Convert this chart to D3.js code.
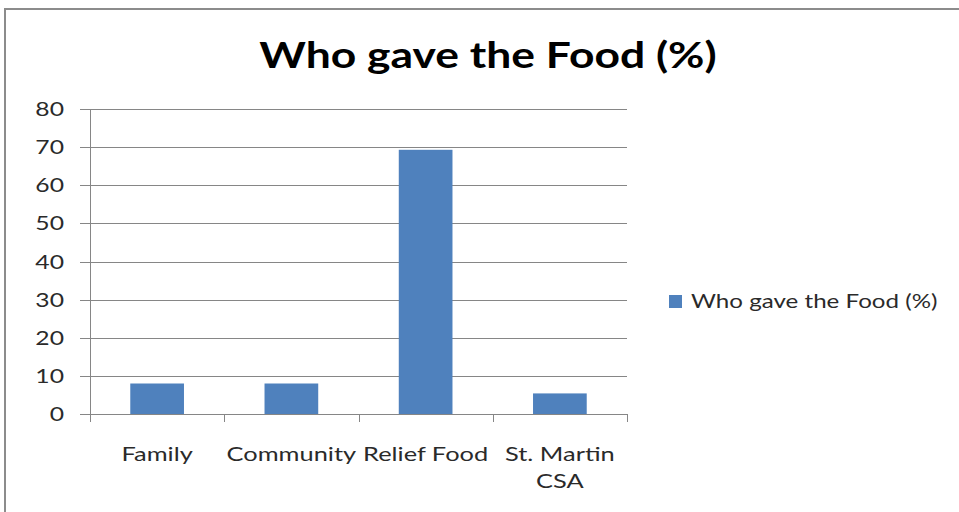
<!DOCTYPE html>
<html>
<head>
<meta charset="utf-8">
<script src="https://cdn.jsdelivr.net/npm/d3@7"></script>
<style>
  body { margin: 0; background: #fff; }
  text { font-family: Lato, "Open Sans", sans-serif; fill: #000; }
</style>
</head>
<body>
<svg id="chart"></svg>
<script>
// DATA ////////////////////////////////////////////////////////////////
var categories = ["Family", "Community", "Relief Food", "St. Martin CSA"];
var values = [8, 8, 69.3, 5.4];
var yTicks = [0, 10, 20, 30, 40, 50, 60, 70, 80];
var seriesName = "Who gave the Food (%)";

// SETUP ///////////////////////////////////////////////////////////////
const W = 959, H = 512;
const PLOT_LEFT = 90, PLOT_TOP = 109, PLOT_RIGHT = 627, PLOT_BOTTOM = 414;
const BAR_COLOUR = "#4f81bd";
const GRID_COLOUR = "#868686";
const TEXT_COLOUR = "#2a2a2a";
const STRETCH = 1.27;

var svg = d3.select("#chart").attr("width", W).attr("height", H);

// outer chart frame
svg.append("rect")
    .attr("x", 5).attr("y", 9)
    .attr("width", W + 20).attr("height", H + 20)
    .attr("fill", "#fff")
    .attr("stroke", "#8c8c8c")
    .attr("stroke-width", 2);

var x = d3.scaleBand().domain(categories).range([PLOT_LEFT, PLOT_RIGHT]).paddingInner(0).paddingOuter(0);
var y = d3.scaleLinear().domain([0, 80]).range([PLOT_BOTTOM, PLOT_TOP]);

// widen text a bit like the stretched original
function stretch(sel, k) {
    sel.each(function () {
        var len = this.getComputedTextLength();
        d3.select(this).attr("textLength", len * k).attr("lengthAdjust", "spacingAndGlyphs");
    });
}

// gridlines
svg.append("g")
    .selectAll("line")
    .data(yTicks)
    .enter()
    .append("line")
    .attr("x1", PLOT_LEFT - 10)
    .attr("x2", PLOT_RIGHT)
    .attr("y1", function (d) { return Math.round(y(d)) + 0.5; })
    .attr("y2", function (d) { return Math.round(y(d)) + 0.5; })
    .attr("stroke", GRID_COLOUR)
    .attr("stroke-width", 1);

// bars
svg.append("g")
    .selectAll("rect")
    .data(categories)
    .enter()
    .append("rect")
    .attr("x", function (d) { return x(d) + x.bandwidth() * 0.3; })
    .attr("width", x.bandwidth() * 0.4)
    .attr("y", function (d, i) { return y(values[i]); })
    .attr("height", function (d, i) { return y(0) - y(values[i]); })
    .attr("fill", BAR_COLOUR);

// y axis line
svg.append("line")
    .attr("x1", PLOT_LEFT + 0.5).attr("x2", PLOT_LEFT + 0.5)
    .attr("y1", PLOT_TOP).attr("y2", PLOT_BOTTOM + 7)
    .attr("stroke", GRID_COLOUR);

// x axis tick marks (band edges)
var edges = categories.map(function (d) { return x(d); }).concat([PLOT_RIGHT]);
svg.append("g")
    .selectAll("line")
    .data(edges)
    .enter()
    .append("line")
    .attr("x1", function (d) { return Math.round(d) + 0.5; })
    .attr("x2", function (d) { return Math.round(d) + 0.5; })
    .attr("y1", PLOT_BOTTOM)
    .attr("y2", PLOT_BOTTOM + 8)
    .attr("stroke", GRID_COLOUR);

// y tick labels
var yLab = svg.append("g")
    .selectAll("text")
    .data(yTicks)
    .enter()
    .append("text")
    .attr("x", 64)
    .attr("y", function (d) { return y(d) + 7; })
    .style("text-anchor", "end")
    .style("font-size", "19px")
    .style("fill", TEXT_COLOUR)
    .text(function (d) { return d; });
stretch(yLab, 1.3);

// x labels (wrap)
var xLab = svg.append("g")
    .selectAll("text")
    .data(categories)
    .enter()
    .append("text")
    .attr("x", function (d) { return x(d) + x.bandwidth() / 2; })
    .attr("y", 461)
    .style("text-anchor", "middle")
    .style("font-size", "20px")
    .style("fill", TEXT_COLOUR);
xLab.each(function (d) {
    var t = d3.select(this);
    var lines = d === "St. Martin CSA" ? ["St. Martin", "CSA"] : [d];
    lines.forEach(function (l, i) {
        t.append("tspan")
            .attr("x", x(d) + x.bandwidth() / 2)
            .attr("dy", i === 0 ? 0 : 27)
            .text(l);
    });
});
xLab.selectAll("tspan").each(function () {
    var len = this.getComputedTextLength();
    d3.select(this).attr("textLength", len * STRETCH).attr("lengthAdjust", "spacingAndGlyphs");
});

// title
var title = svg.append("text")
    .attr("x", 488)
    .attr("y", 68)
    .style("text-anchor", "middle")
    .style("font-size", "37px")
    .style("font-weight", "bold")
    .text(seriesName);
stretch(title, 1.2);

// legend
svg.append("rect")
    .attr("x", 669).attr("y", 295)
    .attr("width", 13).attr("height", 13)
    .attr("fill", BAR_COLOUR);
var leg = svg.append("text")
    .attr("x", 691)
    .attr("y", 308)
    .style("font-size", "19px")
    .style("fill", TEXT_COLOUR)
    .text(seriesName);
stretch(leg, STRETCH);
</script>
</body>
</html>
